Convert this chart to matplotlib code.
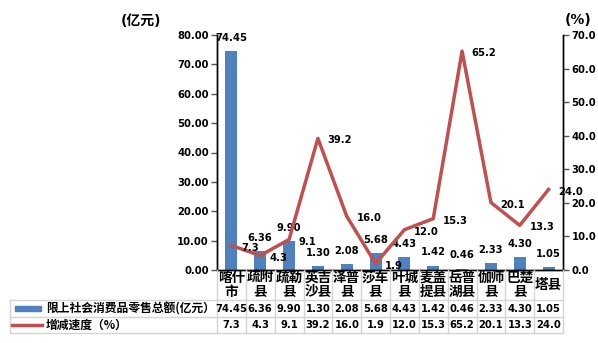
import matplotlib
matplotlib.use('Agg')
import matplotlib.pyplot as plt
from matplotlib.lines import Line2D
from matplotlib.patches import Rectangle
import matplotlib.transforms as mtransforms

categories = ['喀什\n市', '疏附\n县', '疏勒\n县', '英吉\n沙县', '泽普\n县', '莎车\n县',
              '叶城\n县', '麦盖\n提县', '岳普\n湖县', '伽师\n县', '巴楚\n县', '塔县']
sales = [74.45, 6.36, 9.90, 1.30, 2.08, 5.68, 4.43, 1.42, 0.46, 2.33, 4.30, 1.05]
growth = [7.3, 4.3, 9.1, 39.2, 16.0, 1.9, 12.0, 15.3, 65.2, 20.1, 13.3, 24.0]
series_names = ['限上社会消费品零售总额(亿元）', '增减速度（%）']
left_ticks = [0, 10, 20, 30, 40, 50, 60, 70, 80]
right_ticks = [0, 10, 20, 30, 40, 50, 60, 70]

BAR_C = '#4F81BD'
LINE_C = '#C0504D'
GRID_C = '#D4D4D4'

plt.rcParams['font.family'] = ['DejaVu Sans', 'Noto Sans CJK SC']
plt.rcParams['font.weight'] = 'bold'
NUM_FS = 7.2
CJK = ['Noto Sans CJK SC', 'DejaVu Sans']

W, H = 598, 343
fig = plt.figure(figsize=(W / 100, H / 100), dpi=100)
ax_l, ax_r, ax_t, ax_b = 217, 563, 35, 270
ax = fig.add_axes([ax_l / W, (H - ax_b) / H, (ax_r - ax_l) / W, (ax_b - ax_t) / H])
ax2 = ax.twinx()

n = len(categories)
x = list(range(n))
ax.bar(x, sales, width=0.42, color=BAR_C, zorder=2)
ax.set_xlim(-0.5, n - 0.5)
ax.set_ylim(0, 80)
ax.set_yticks(left_ticks)
ax.set_yticklabels([f'{v:.2f}' for v in left_ticks])
ax.set_xticks([])

ax2.plot(x, growth, color=LINE_C, lw=2.5, zorder=3)
ax2.set_ylim(0, 70)
ax2.set_yticks(right_ticks)
ax2.set_yticklabels([f'{v:.1f}' for v in right_ticks])
ax2.set_zorder(ax.get_zorder() + 1)
ax2.patch.set_visible(False)

for a in (ax, ax2):
    a.spines['top'].set_visible(False)
    for s in ('left', 'right', 'bottom'):
        a.spines[s].set_color('black')
        a.spines[s].set_linewidth(1.0)
    a.tick_params(axis='y', length=4, width=1, color='#555555', labelsize=NUM_FS, pad=2)
    for lab in a.get_yticklabels():
        lab.set_fontweight('bold')

for xi, v in zip(x, sales):
    ax.annotate(f'{v:.2f}', (xi, v), xytext=(0, 6), textcoords='offset points',
                ha='center', va='bottom', fontsize=NUM_FS, fontweight='bold')
for xi, v in zip(x, growth):
    ax2.annotate(f'{v:.1f}', (xi, v), xytext=(7, -1.5), textcoords='offset points',
                 ha='left', va='center', fontsize=NUM_FS, fontweight='bold')

# unit labels
fig.text(141 / W, 1 - 21 / H, '(亿元)', ha='center', va='center', fontsize=10, fontweight='bold')
fig.text(578 / W, 1 - 20 / H, '(%)', ha='center', va='center', fontsize=10, fontweight='bold')

# data table
def fy(py):
    return 1 - py / H

tr = mtransforms.blended_transform_factory(ax.transData, fig.transFigure)
row_top, row1, row2, row3 = 270, 300, 317, 333
tab_left = 10

for py in (row1, row2, row3):
    fig.add_artist(Line2D([tab_left / W, ax_r / W], [fy(py), fy(py)], color=GRID_C, lw=1,
                          transform=fig.transFigure))
for i in range(n + 1):
    xb = i - 0.5
    fig.add_artist(Line2D([xb, xb], [fy(row_top), fy(row3)], color=GRID_C, lw=1, transform=tr))
fig.add_artist(Line2D([tab_left / W, tab_left / W], [fy(row1), fy(row3)], color=GRID_C, lw=1,
                      transform=fig.transFigure))

for xi, cat in zip(x, categories):
    fig.text(xi, fy((row_top + row1) / 2), cat, transform=tr, ha='center', va='center',
             fontsize=9.8, fontweight='bold', linespacing=1.0, family=CJK)
for xi, v in zip(x, sales):
    fig.text(xi, fy((row1 + row2) / 2), f'{v:.2f}', transform=tr, ha='center', va='center',
             fontsize=NUM_FS, fontweight='bold')
for xi, v in zip(x, growth):
    fig.text(xi, fy((row2 + row3) / 2), f'{v:.1f}', transform=tr, ha='center', va='center',
             fontsize=NUM_FS, fontweight='bold')

# legend keys
fig.add_artist(Rectangle((15 / W, fy(311)), 26 / W, 5 / H, color=BAR_C, transform=fig.transFigure))
fig.add_artist(Line2D([12 / W, 42 / W], [fy(325), fy(325)], color=LINE_C, lw=2.5,
                      transform=fig.transFigure))
fig.text(46 / W, fy((row1 + row2) / 2), series_names[0], ha='left', va='center',
         fontsize=8.5, fontweight='bold', family=CJK)
fig.text(46 / W, fy((row2 + row3) / 2), series_names[1], ha='left', va='center',
         fontsize=8.5, fontweight='bold', family=CJK)

fig.savefig('out.png', dpi=100)
